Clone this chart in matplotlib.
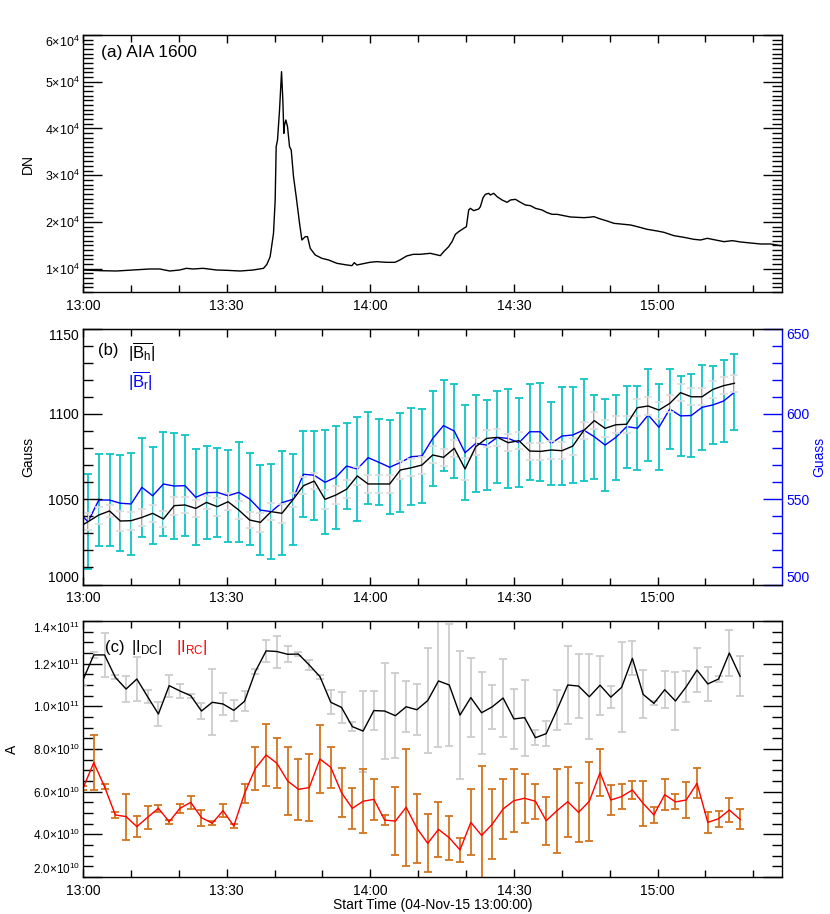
import numpy as np
import matplotlib
matplotlib.use("Agg")
import matplotlib.pyplot as plt
from matplotlib.ticker import FixedLocator, MultipleLocator

plt.rcParams['font.family'] = ['Liberation Sans', 'DejaVu Sans']
plt.rcParams['mathtext.fontset'] = 'custom'
plt.rcParams['mathtext.rm'] = 'Liberation Sans'
plt.rcParams['mathtext.it'] = 'Liberation Sans:italic'
plt.rcParams['mathtext.bf'] = 'Liberation Sans:bold'

# ---------------- data ----------------
# (a) AIA 1600 light curve: minutes after 13:00, DN
aia_t = [0.0, 3.48, 6.97, 10.45, 13.94, 16.03, 18.12, 20.21, 21.6, 23.0, 25.09, 27.87,
         29.97, 32.82, 35.5, 37.7, 38.4, 39.09, 39.79, 40.14, 40.35, 40.63, 41.05, 41.47,
         41.74, 41.95, 42.09, 42.37, 42.72, 43.14, 43.49, 43.97, 44.53, 45.23, 45.72,
         46.42, 46.9, 47.46, 48.51, 49.9, 51.3, 53.04, 55.13, 56.17, 56.66, 57.22, 58.54,
         59.93, 61.32, 63.41, 65.16, 66.2, 67.6, 68.99, 70.38, 72.55, 74.64, 75.34, 76.38,
         77.08, 77.78, 78.47, 79.52, 80.08, 80.56, 80.91, 81.61, 82.65, 83.0, 83.56, 84.05,
         84.75, 85.09, 85.79, 86.49, 87.53, 88.58, 89.27, 90.32, 91.37, 92.41, 93.46, 94.5,
         95.89, 96.94, 97.99, 99.03, 100.42, 101.82, 103.21, 104.61, 105.65, 106.7, 108.09,
         109.48, 110.88, 112.27, 114.36, 115.76, 117.85, 119.94, 121.33, 123.42, 125.51,
         127.6, 129.0, 130.39, 132.13, 133.87, 135.62, 137.36, 139.45, 141.54, 143.63, 145.72]
aia_dn = [9710, 9567, 9496, 9710, 9925, 9925, 9496, 9710, 10067, 9925, 10067, 9710,
          9639, 9496, 9700, 10067, 10900, 12563, 17557, 24689, 36102, 37529, 43949, 52151,
          46089, 38956, 40739, 41809, 40382, 36102, 35389, 29682, 25403, 19696, 16130,
          16843, 16843, 14347, 12920, 12207, 11851, 11137, 10780, 10637, 11279, 10780, 11066,
          11351, 11494, 11351, 11351, 11850, 12706, 13063, 13063, 13277, 12777, 13633, 14703,
          15773, 17342, 17913, 18627, 18983, 22550, 22906, 22407, 22764, 23264, 25189, 25902,
          26116, 25760, 26116, 25404, 24690, 24191, 24690, 24833, 24191, 23620, 23477, 22906,
          22550, 21979, 21623, 21623, 21337, 21052, 20981, 20910, 20981, 21124, 20624,
          20196, 19697, 19555, 19341, 18983, 18413, 18056, 17771, 17058, 16701,
          16273, 16130, 16487, 16130, 15773, 15988, 15702, 15488, 15274, 15274, 14917]

# (b) field strengths, cadence 2.25 min starting 13:01:03 (first sample before 13:00)
b_cadence = 2.25
b_t0 = 1.05
bh = [1033.0, 1036.8, 1040.7, 1043.1, 1037.2, 1037.4, 1039.3, 1041.7, 1038.4, 1046.2, 1046.6,
      1044.6, 1048.1, 1045.6, 1048.5, 1043.6, 1037.8, 1036.4, 1042.7, 1041.7, 1049.5, 1057.9,
      1060.6, 1049.9, 1052.4, 1055.8, 1063.6, 1058.9, 1058.9, 1058.9, 1067.1, 1068.4, 1070.0,
      1075.9, 1074.5, 1079.8, 1067.7, 1080.8, 1085.6, 1086.2, 1083.1, 1084.3, 1078.2, 1078.0,
      1078.8, 1078.4, 1081.1, 1090.1, 1096.0, 1091.5, 1093.6, 1093.9, 1103.6, 1104.6, 1102.2,
      1106.1, 1112.4, 1110.0, 1110.0, 1114.3, 1116.5, 1117.9]
bh_err = [5.0, 5.0, 5.0, 3.6, 5.6, 5.2, 5.1, 4.9, 4.9, 5.2, 4.7, 5.1, 4.0, 5.2, 4.9, 5.2, 4.9,
          5.6, 5.1, 5.4, 4.3, 5.1, 4.9, 5.6, 5.1, 5.4, 5.4, 5.2, 5.2, 5.2, 5.2,
          5.0, 5.0, 5.0, 5.0, 5.0, 6.3, 5.2, 5.1,
          5.0, 5.0, 5.0, 5.0, 5.0, 5.0, 5.0, 5.0, 5.0, 5.0, 5.0, 5.0, 5.0, 5.0, 5.0, 5.0,
          5.0, 5.0, 5.0, 5.0, 5.0, 5.0, 4.9]
br = [543.1, 536.8, 549.5, 549.5, 547.6, 547.2, 556.9, 552.0, 558.9, 557.7, 557.9, 551.1,
      553.8, 554.0, 552.0, 554.0, 550.1, 543.6, 542.7, 547.9, 549.9, 564.6, 564.0, 559.9,
      562.8, 569.4, 567.7, 574.3, 571.6, 568.7, 571.5, 574.9, 575.3, 585.6, 593.1, 589.9,
      577.2, 582.7, 581.7, 586.2, 585.6, 583.1, 589.5, 589.5, 582.7, 587.0, 587.6, 590.5,
      586.6, 581.7, 586.2, 592.5, 591.6, 599.3, 592.1, 602.8, 598.8, 599.0, 603.8, 605.2,
      607.5, 612.6]
br_err = [28.0, 28.0, 27.1, 26.8, 28.1, 29.8, 29.0, 28.3, 30.3, 30.8, 29.6, 28.2, 27.3, 25.9,
          27.0, 29.3, 27.2, 26.2, 27.7, 30.6, 26.7, 25.1, 26.1, 30.6, 30.1, 25.2, 30.4, 27.0,
          25.2, 27.6, 28.8, 28.5, 27.3, 27.7, 26.6, 27.7, 27.8, 28.5, 26.6, 26.9, 29.0, 26.1,
          28.1, 28.8, 24.4, 28.5, 28.3, 30.0, 24.7, 26.7, 24.8, 24.0, 24.8, 27.1, 25.3, 23.4,
          23.5, 24.2, 24.9, 22.8, 23.9, 22.3]

# (c) currents (units of 1e10 A), cadence 2.25 min starting 13:00
c_cadence = 2.25
idc = [11.24, 12.41, 12.41, 11.36, 10.81, 11.28, 10.45, 9.64, 10.97, 10.72, 10.50, 9.78, 10.19,
       10.11, 9.81, 10.24, 11.63, 12.60, 12.57, 12.44, 12.45, 11.94, 11.39, 10.19, 9.95, 9.05,
       8.84, 9.80, 9.78, 9.56, 9.98, 9.84, 10.27, 11.19, 11.00, 9.59, 10.41, 9.70, 9.98, 10.39,
       9.41, 9.47, 8.53, 8.72, 9.83, 11.00, 10.95, 10.45, 10.99, 10.43, 10.89, 12.25, 10.56,
       10.14, 10.78, 10.25, 10.92, 11.70, 11.05, 11.28, 12.50, 11.41]
idc_err = [0.3, 0.15, 1.02, 0.1, 0.62, 1.05, 0.3, 0.57, 0.51, 0.35, 0.1, 0.37, 1.54, 0.51, 0.49,
           0.48, 0.1, 0.53, 0.75, 0.37, 0.1, 0.25, 0.1, 0.56, 0.71, 0.2, 1.9, 0.9, 2.25, 2.0,
           1.2, 1.2, 2.48, 3.1, 2.85, 3.0, 1.84, 1.93, 1.02, 1.85, 1.39, 1.78, 0.35, 0.59, 0.93,
           1.83, 1.51, 1.98, 1.39, 0.52, 2.11, 0.8, 1.12, 0.1, 0.87, 1.38, 0.72, 1.02, 0.78,
           0.15, 1.09, 0.94]
irc = [6.16, 7.36, 6.23, 4.91, 4.83, 4.36, 4.80, 5.22, 4.59, 5.22, 5.50, 4.78, 4.52, 5.11,
       4.39, 5.92, 7.09, 7.72, 7.33, 6.50, 6.11, 6.19, 7.53, 7.14, 5.95, 5.22, 5.55, 5.64,
       4.67, 4.62, 5.27, 4.28, 3.58, 4.23, 3.84, 3.27, 4.56, 3.95, 4.48, 5.19, 5.58, 5.69,
       5.55, 4.64, 5.11, 5.53, 5.03, 5.55, 6.89, 5.61, 5.77, 6.08, 5.45, 4.91, 5.86, 5.52,
       5.61, 6.39, 4.56, 4.73, 5.14, 4.70]
irc_err = [0.1, 1.29, 0.12, 0.13, 1.08, 0.49, 0.55, 0.15, 0.1, 0.2, 0.32, 0.38, 0.1, 0.32, 0.1,
           0.46, 1.02, 1.46, 1.17, 1.61, 1.43, 1.57, 1.59, 0.96, 1.15, 0.96, 1.5, 0.97, 0.23,
           1.6, 2.75, 1.63, 1.35, 1.27, 1.04, 0.57, 1.55, 3.27, 1.64, 1.42, 1.48, 1.16, 0.83,
           1.12, 1.97, 1.64, 1.37, 1.86, 1.11, 0.70, 0.58, 0.41, 1.05, 0.39, 0.73, 0.35, 0.84,
           0.70, 0.51, 0.37, 0.56, 0.47]

time_ticks = [0, 30, 60, 90, 120]
time_labels = ['13:00', '13:30', '14:00', '14:30', '15:00']
a_ticks = [1e4, 2e4, 3e4, 4e4, 5e4, 6e4]
a_labels = ['1×10$^{4}$', '2×10$^{4}$', '3×10$^{4}$', '4×10$^{4}$', '5×10$^{4}$', '6×10$^{4}$']
c_ticks = [2e10, 4e10, 6e10, 8e10, 1e11, 1.2e11, 1.4e11]
c_labels = ['2.0×10$^{10}$', '4.0×10$^{10}$', '6.0×10$^{10}$', '8.0×10$^{10}$',
            '1.0×10$^{11}$', '1.2×10$^{11}$', '1.4×10$^{11}$']

# ---------------- figure ----------------
W, H = 830, 914
fig = plt.figure(figsize=(W / 100, H / 100), dpi=100)
L = 83 / W
Wd = 699 / W
axa = fig.add_axes([L, 1 - 292 / H, Wd, 257 / H])
axb = fig.add_axes([L, 1 - 584.5 / H, Wd, 256 / H])
axc = fig.add_axes([L, 1 - 877 / H, Wd, 256 / H])

XMAX = 146.0
for ax in (axa, axb, axc):
    ax.set_xlim(0, XMAX)
    ax.xaxis.set_major_locator(FixedLocator(time_ticks))
    ax.xaxis.set_minor_locator(MultipleLocator(10))
    ax.set_xticklabels(time_labels)
    ax.tick_params(axis='x', which='major', direction='in', length=6, width=1,
                   top=True, labelsize=10, pad=5)
    ax.tick_params(axis='x', which='minor', direction='in', length=5, width=1, top=True)
    for s in ax.spines.values():
        s.set_linewidth(1.0)

# (a)
axa.plot(aia_t, aia_dn, color='black', lw=1.0)
axa.set_ylim(5000, 60000)
axa.yaxis.set_major_locator(FixedLocator(a_ticks))
axa.yaxis.set_minor_locator(MultipleLocator(1000))
axa.set_yticklabels(a_labels)
axa.tick_params(axis='y', which='major', direction='in', length=14, width=1, right=True,
                labelsize=9, pad=2)
axa.tick_params(axis='y', which='minor', direction='in', length=7, width=1, right=True)
axa.get_yticklabels()[-1].set_va('top')
axa.set_ylabel('DN', fontsize=10)
axa.yaxis.set_label_coords(-0.069, 0.5)
axa.text(0.026, 0.93, '(a) AIA 1600', transform=axa.transAxes, fontsize=12.5,
         ha='left', va='center')

# (b)
tb = b_t0 + b_cadence * (np.arange(len(bh)) - 1)
axb2 = axb.twinx()
axb.set_zorder(axb2.get_zorder() + 1)
axb.patch.set_visible(False)
axb.spines['right'].set_visible(False)
axb2.errorbar(tb, br, yerr=br_err, fmt='none', ecolor='#10c4c4', elinewidth=1.3,
              capsize=3.2, capthick=1.3)
axb2.plot(tb, br, color='#0000ff', lw=1.0)
axb.errorbar(tb, bh, yerr=bh_err, fmt='none', ecolor='#dddddd', elinewidth=1.0,
             capsize=3.2, capthick=1.2)
axb.plot(tb, bh, color='black', lw=1.0)
axb.set_ylim(1000, 1150)
axb2.set_ylim(500, 650)
axb.yaxis.set_major_locator(FixedLocator([1000, 1050, 1100, 1150]))
axb.yaxis.set_minor_locator(MultipleLocator(10))
axb.tick_params(axis='y', which='major', direction='in', length=14, width=1, right=False,
                labelsize=10, pad=3)
axb.tick_params(axis='y', which='minor', direction='in', length=7, width=1, right=False)
axb.get_yticklabels()[0].set_va('bottom')
axb.get_yticklabels()[-1].set_va('top')
axb.set_ylabel('Gauss', fontsize=10)
axb.yaxis.set_label_coords(-0.069, 0.5)
axb2.yaxis.set_major_locator(FixedLocator([500, 550, 600, 650]))
axb2.yaxis.set_minor_locator(MultipleLocator(10))
axb2.tick_params(axis='y', which='major', direction='in', length=14, width=1,
                 colors='#0000ff', labelsize=10, pad=3)
axb2.tick_params(axis='y', which='minor', direction='in', length=7, width=1, colors='#0000ff')
axb2.spines['right'].set_color('#0000ff')
axb2.spines['right'].set_linewidth(1.0)
axb2.get_yticklabels()[0].set_va('bottom')
axb2.get_yticklabels()[-1].set_va('top')
axb2.set_ylabel('Guass', fontsize=10, color='#0000ff', rotation=90)
axb2.yaxis.set_label_coords(1.043, 0.5)
axb.text(0.021, 0.916, '(b)', transform=axb.transAxes, fontsize=12, ha='left', va='center')
axb.text(0.064, 0.905, r'$|\overline{\mathrm{B}_\mathrm{h}}|$', transform=axb.transAxes,
         fontsize=12, ha='left', va='center', color='black')
axb.text(0.064, 0.792, r'$|\overline{\mathrm{B}_\mathrm{r}}|$', transform=axb.transAxes,
         fontsize=12, ha='left', va='center', color='#0000ff')

# (c)
tc = c_cadence * np.arange(len(idc))
scale = 1e10
axc.errorbar(tc, np.array(idc) * scale, yerr=np.array(idc_err) * scale, fmt='none',
             ecolor='#cdcdcd', elinewidth=1.3, capsize=3.2, capthick=1.3)
axc.errorbar(tc, np.array(irc) * scale, yerr=np.array(irc_err) * scale, fmt='none',
             ecolor='#d2741e', elinewidth=1.3, capsize=3.2, capthick=1.3)
axc.plot(tc, np.array(idc) * scale, color='black', lw=1.0)
axc.plot(tc, np.array(irc) * scale, color='#ff0000', lw=1.0)
axc.set_ylim(2e10, 1.4e11)
axc.yaxis.set_major_locator(FixedLocator(c_ticks))
axc.yaxis.set_minor_locator(MultipleLocator(5e9))
axc.set_yticklabels(c_labels)
axc.tick_params(axis='y', which='major', direction='in', length=14, width=1, right=True,
                labelsize=8.5, pad=2)
axc.tick_params(axis='y', which='minor', direction='in', length=7, width=1, right=True)
axc.get_yticklabels()[0].set_va('bottom')
axc.get_yticklabels()[-1].set_va('top')
axc.set_ylabel('A', fontsize=10)
axc.yaxis.set_label_coords(-0.092, 0.5)
axc.set_xlabel('Start Time (04-Nov-15 13:00:00)', fontsize=10, labelpad=0)
axc.text(0.031, 0.895, '(c)', transform=axc.transAxes, fontsize=12, ha='left', va='center')
axc.text(0.069, 0.895, r'$|\mathrm{I}_\mathrm{DC}|$', transform=axc.transAxes,
         fontsize=12, ha='left', va='center', color='black')
axc.text(0.133, 0.895, r'$|\mathrm{I}_\mathrm{RC}|$', transform=axc.transAxes,
         fontsize=12, ha='left', va='center', color='#ff0000')

fig.savefig('out.png', dpi=100)
